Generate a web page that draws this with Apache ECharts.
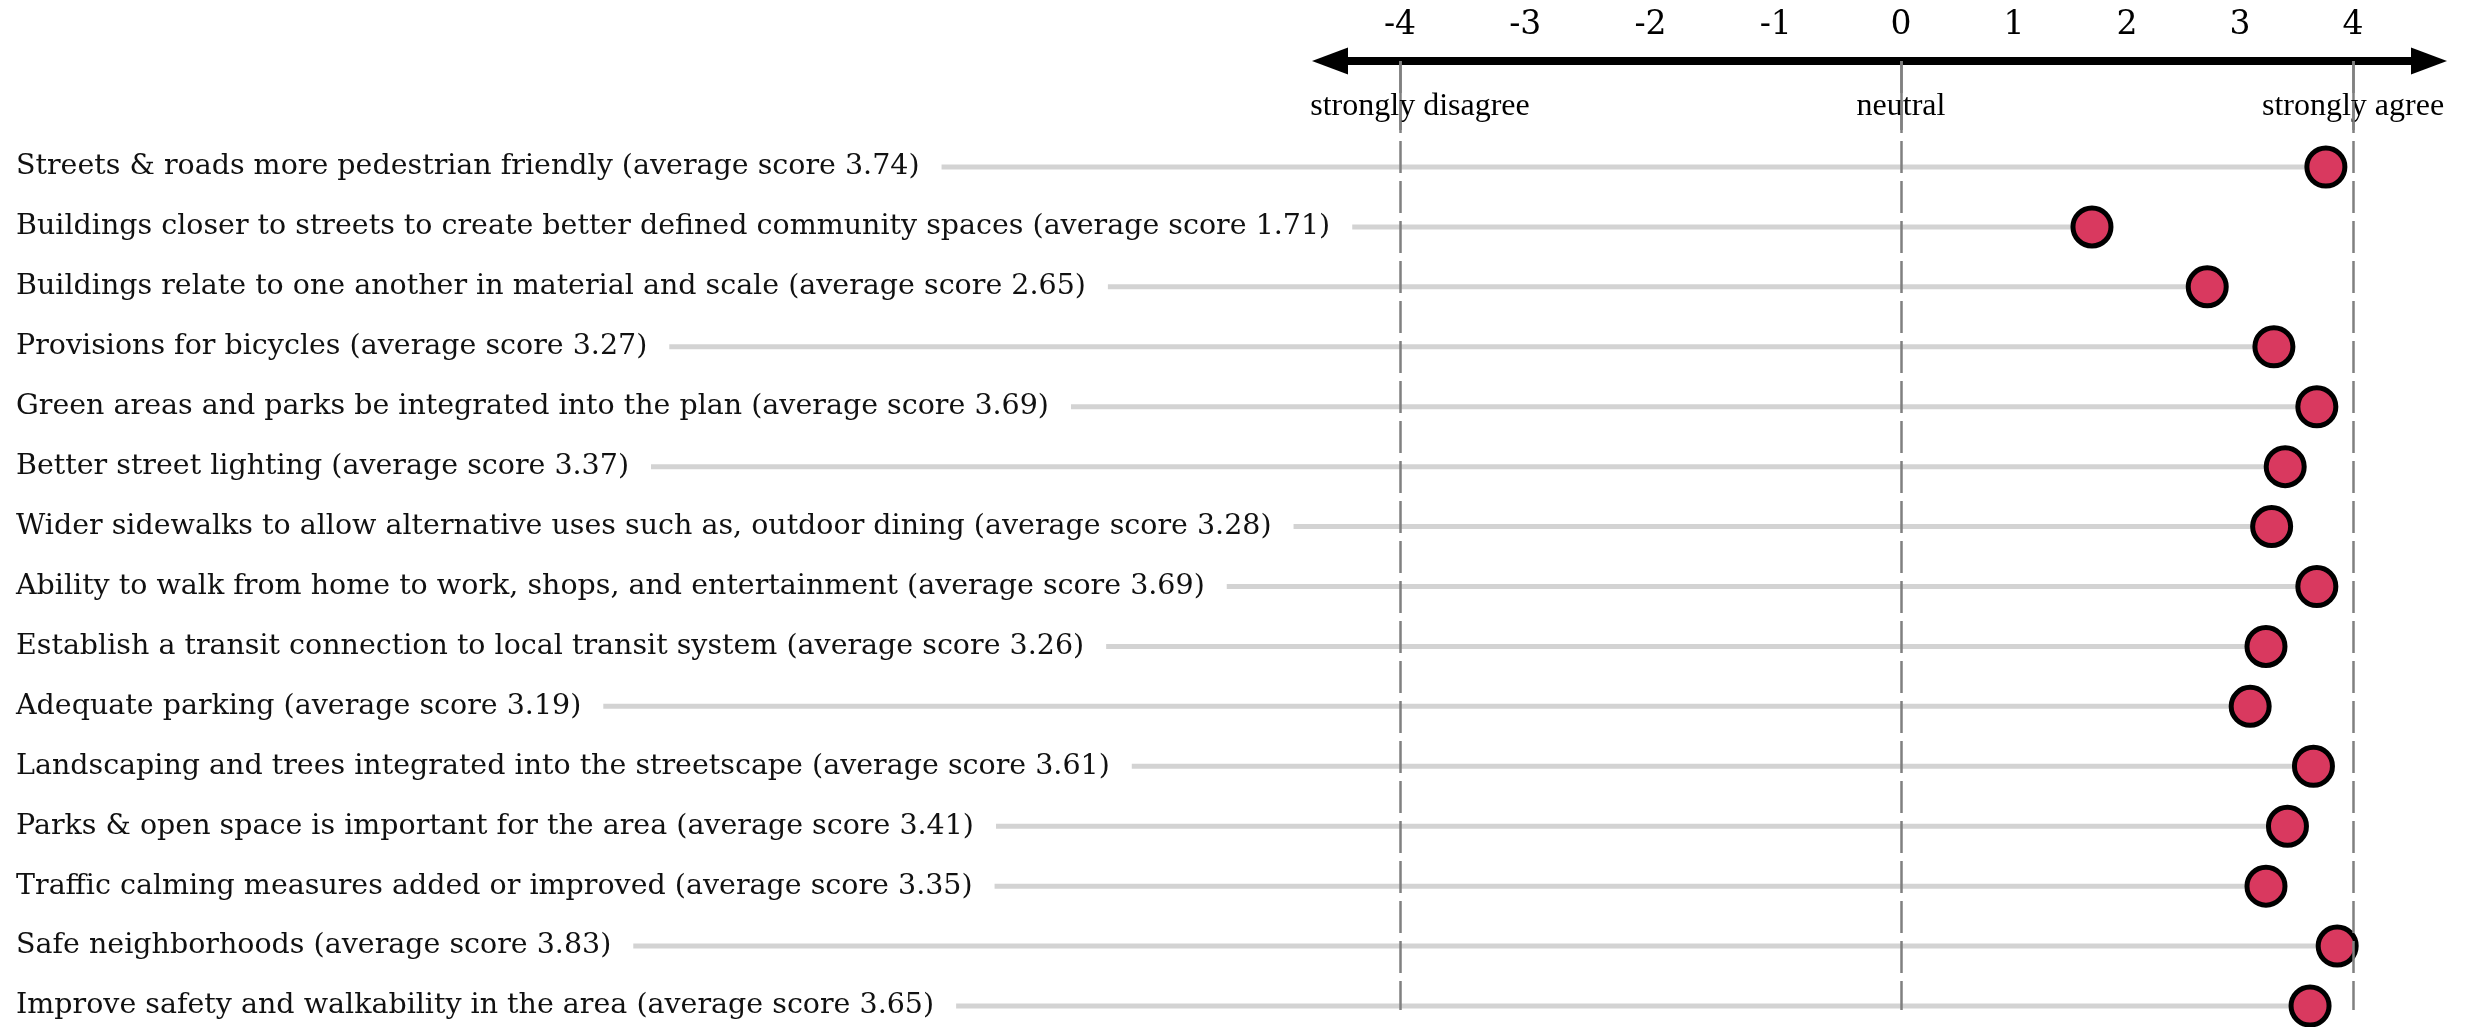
<!DOCTYPE html>
<html><head><meta charset="utf-8">
<script src="https://cdn.jsdelivr.net/npm/echarts@6/dist/echarts.min.js"></script>
<style>html,body{margin:0;padding:0;background:#fff}#c{width:2476px;height:1027px}</style>
</head><body><div id="c"></div>
<script>
// ---- data ----
const categories = [
  'Streets & roads more pedestrian friendly',
  'Buildings closer to streets to create better defined community spaces',
  'Buildings relate to one another in material and scale',
  'Provisions for bicycles',
  'Green areas and parks be integrated into the plan',
  'Better street lighting',
  'Wider sidewalks to allow alternative uses such as, outdoor dining',
  'Ability to walk from home to work, shops, and entertainment',
  'Establish a transit connection to local transit system',
  'Adequate parking',
  'Landscaping and trees integrated into the streetscape',
  'Parks & open space is important for the area',
  'Traffic calming measures added or improved',
  'Safe neighborhoods',
  'Improve safety and walkability in the area'
];
const scoreLabels = ['3.74','1.71','2.65','3.27','3.69','3.37','3.28','3.69','3.26','3.19','3.61','3.41','3.35','3.83','3.65'];
const dotValues = [3.76, 1.69, 2.71, 3.30, 3.68, 3.40, 3.28, 3.68, 3.23, 3.09, 3.65, 3.42, 3.23, 3.86, 3.62];
const tickLabels = [-4, -3, -2, -1, 0, 1, 2, 3, 4];
const refLines = [-4, 0, 4];
const refLabels = ['strongly disagree', 'neutral', 'strongly agree'];

// ---- layout (pixel geometry) ----
const W = 2476, H = 1027;
const X0 = 1901, UNIT = 113, NEG_UNIT = 125.25;
const K = NEG_UNIT / UNIT;
const toAxis = v => v < 0 ? v * K : v;
const fromAxis = u => u < 0 ? u / K : u;
const pxToU = px => (px - X0) / UNIT;
const dataLeft = 16, plotRight = 2447, arrowLen = 36;
const axisLeft = 1312 + arrowLen / 2, axisRight = plotRight - arrowLen / 2;

const rowLabels = categories.map((c, i) => c + ' (average score ' + scoreLabels[i] + ')');
const points = dotValues.map((v, i) => [v, i]);

const annFont = {fontFamily: 'Liberation Serif', fontSize: 32, color: '#000'};

const chart = echarts.init(document.getElementById('c'), null, {renderer: 'canvas'});
chart.setOption({
  animation: false,
  backgroundColor: '#fff',
  grid: [
    {left: dataLeft, right: W - plotRight, top: 167, bottom: H - 1006},
    {left: axisLeft, right: W - axisRight, top: 61, bottom: H - 1010},
    {left: axisLeft, right: W - axisRight, top: 129, bottom: H - 200}
  ],
  xAxis: [
    {gridIndex: 0, type: 'value', min: pxToU(dataLeft), max: pxToU(plotRight), show: false},
    {gridIndex: 1, type: 'value', position: 'top', min: pxToU(axisLeft), max: pxToU(axisRight),
      axisLine: {show: true, symbol: ['triangle', 'triangle'], symbolSize: [27, arrowLen],
        lineStyle: {color: '#000', width: 8}},
      axisTick: {show: true, inside: true, length: 69, customValues: refLines.map(toAxis),
        lineStyle: {color: '#808080', width: 2.5}},
      axisLabel: {show: true, customValues: tickLabels.map(toAxis),
        formatter: v => String(Math.round(fromAxis(v))),
        fontFamily: 'DejaVu Serif', fontSize: 33, color: '#000', margin: 19},
      splitLine: {show: false}},
    {gridIndex: 2, type: 'value', position: 'top', min: pxToU(axisLeft), max: pxToU(axisRight),
      axisLine: {show: false}, axisTick: {show: false}, splitLine: {show: false},
      axisLabel: Object.assign({show: true, customValues: refLines.map(toAxis), margin: 6,
        formatter: v => {
          const i = refLines.indexOf(Math.round(fromAxis(v)));
          return i === 0 ? '{first|' + refLabels[i] + '}' : '{n|' + refLabels[i] + '}';
        },
        rich: {
          first: Object.assign({padding: [0, 0, 0, 40]}, annFont),
          n: Object.assign({}, annFont)
        }}, annFont)}
  ],
  yAxis: [
    {gridIndex: 0, type: 'category', data: rowLabels, inverse: true, boundaryGap: false, z: 5,
      axisLine: {show: false}, axisTick: {show: false}, splitLine: {show: false},
      axisLabel: {inside: true, margin: 0, interval: 0, fontFamily: 'DejaVu Serif', fontSize: 28.5,
        color: '#111', backgroundColor: '#fff', padding: [2, 22, 2, 0]}},
    {gridIndex: 1, type: 'value', min: 0, max: 1, inverse: true, show: false},
    {gridIndex: 2, type: 'value', min: 0, max: 1, show: false}
  ],
  series: [
    {type: 'custom', xAxisIndex: 0, yAxisIndex: 0, z: 2, data: points,
      encode: {x: 0, y: 1},
      renderItem: (params, api) => {
        const end = api.coord([api.value(0), api.value(1)]);
        return {type: 'line', shape: {x1: params.coordSys.x, y1: end[1], x2: end[0], y2: end[1]},
          style: {stroke: '#d3d3d3', lineWidth: 5}};
      }},
    {type: 'scatter', xAxisIndex: 0, yAxisIndex: 0, z: 4, data: points, symbolSize: 38,
      itemStyle: {color: '#d9395f', borderColor: '#000', borderWidth: 5, opacity: 1}},
    {type: 'scatter', xAxisIndex: 1, yAxisIndex: 1, z: 1, symbolSize: 0, silent: true,
      data: refLines.map(v => [toAxis(v), 0]),
      markLine: {silent: true, symbol: ['none', 'none'], label: {show: false},
        lineStyle: {color: '#808080', width: 2.5, type: [32, 8]},
        data: refLines.map(v => [{coord: [toAxis(v), 0]}, {coord: [toAxis(v), 1]}])}}
  ]
});
</script></body></html>
